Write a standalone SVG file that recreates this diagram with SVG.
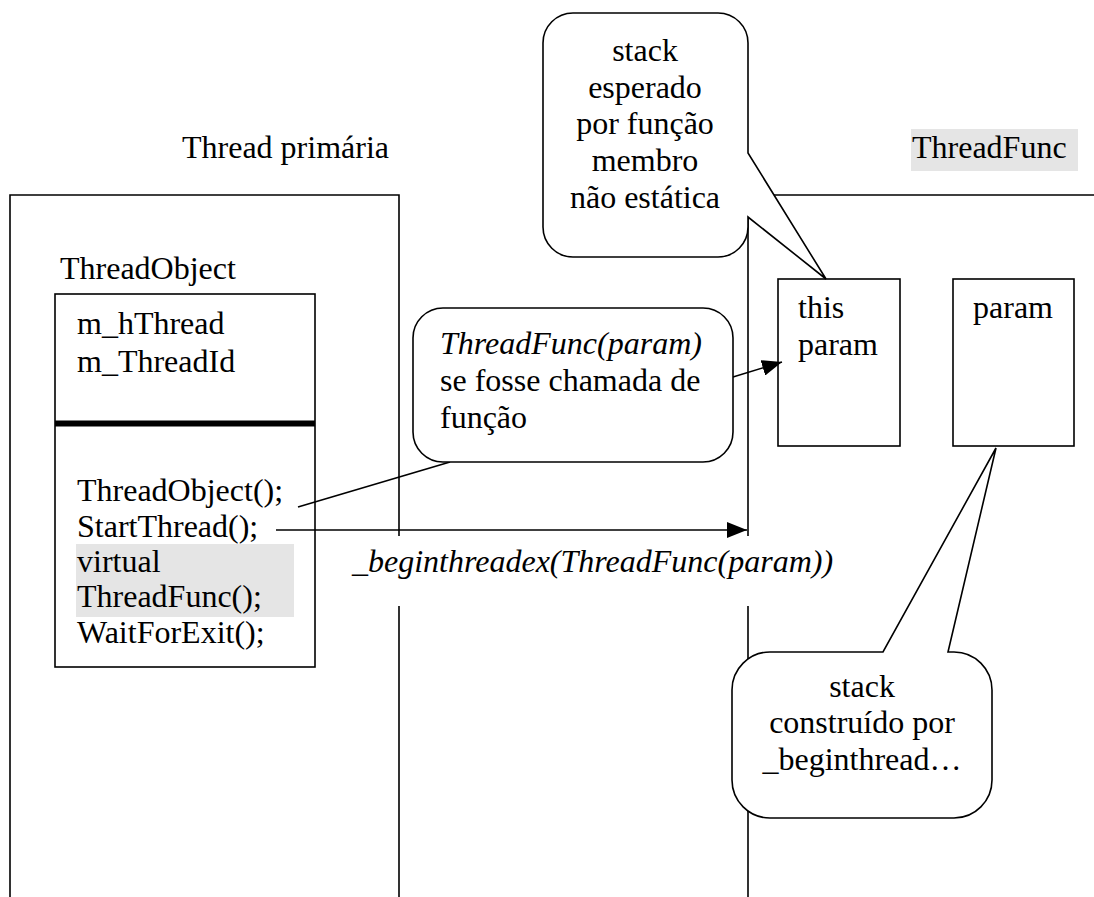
<svg xmlns="http://www.w3.org/2000/svg" width="1094" height="897" viewBox="0 0 1094 897">
<style>
text{font-size:32px;fill:#000}
.it{font-style:italic}
.ln{fill:none;stroke:#000;stroke-width:1.6}
.box{fill:#fff;stroke:#000;stroke-width:1.6}
.hl{fill:#e5e5e5}
</style>
<defs>
<marker id="ah" viewBox="0 0 20 16" refX="20" refY="8" markerWidth="20" markerHeight="16" markerUnits="userSpaceOnUse" orient="auto">
<path d="M0,0 L20,8 L0,16 Z" fill="#000"/>
</marker>
</defs>
<rect width="1094" height="897" fill="#fff"/>
<g font-family="Liberation Serif, Times New Roman, DejaVu Serif, serif">

<g id="primary-thread">
<text x="182" y="158">Thread primária</text>
<path class="ln" d="M10,897 V195 H399 V536 M399,606 V897"/>
</g>

<g id="threadfunc-thread">
<rect class="hl" x="911" y="129" width="167" height="42"/>
<text x="912" y="158">ThreadFunc</text>
<path class="ln" d="M1094,195 H748 V536 M748,606 V897"/>
</g>

<g id="threadobject">
<text x="60" y="279">ThreadObject</text>
<rect class="box" x="55" y="294" width="260" height="373"/>
<line x1="55" y1="423.5" x2="315" y2="423.5" stroke="#000" stroke-width="6"/>
<text x="77" y="334">m_hThread</text>
<text x="77" y="372">m_ThreadId</text>
<rect class="hl" x="76" y="544" width="218" height="73"/>
<text x="77" y="501">ThreadObject();</text>
<text x="77" y="537">StartThread();</text>
<text x="77" y="572">virtual</text>
<text x="77" y="607">ThreadFunc();</text>
<text x="77" y="643">WaitForExit();</text>
</g>

<g id="stack-this">
<rect class="box" x="778" y="279" width="122" height="167"/>
<text x="798" y="318">this</text>
<text x="798" y="355">param</text>
</g>

<g id="stack-param">
<rect class="box" x="953" y="279" width="121" height="167"/>
<text x="1013" y="318" text-anchor="middle">param</text>
</g>

<g id="connectors">
<line class="ln" x1="276" y1="530" x2="747" y2="530" marker-end="url(#ah)"/>
<text class="it" x="352" y="572">_beginthreadex(ThreadFunc(param))</text>
<line class="ln" x1="733" y1="377" x2="782" y2="362" marker-end="url(#ah)"/>
<line class="ln" x1="450" y1="462" x2="298" y2="507"/>
</g>

<g id="callout-stack-expected">
<path class="box" d="M573,13 H718 A30,30 0 0 1 748,43 V153 L826,279 L748,217 V227 A30,30 0 0 1 718,257 H573 A30,30 0 0 1 543,227 V43 A30,30 0 0 1 573,13 Z"/>
<text x="645" y="61" text-anchor="middle">stack</text>
<text x="645" y="98" text-anchor="middle">esperado</text>
<text x="645" y="134" text-anchor="middle">por função</text>
<text x="645" y="171" text-anchor="middle">membro</text>
<text x="645" y="208" text-anchor="middle">não estática</text>
</g>

<g id="callout-function-call">
<rect class="box" x="413" y="308" width="320" height="154" rx="30" ry="30"/>
<text class="it" x="440" y="354">ThreadFunc(param)</text>
<text x="440" y="391">se fosse chamada de</text>
<text x="440" y="428">função</text>
</g>

<g id="callout-stack-built">
<path class="box" d="M770,652 H883 L996,448 L948,652 H954 A38,38 0 0 1 992,690 V780 A38,38 0 0 1 954,818 H770 A38,38 0 0 1 732,780 V690 A38,38 0 0 1 770,652 Z"/>
<text x="862" y="697" text-anchor="middle">stack</text>
<text x="862" y="733" text-anchor="middle">construído por</text>
<text x="862" y="770" text-anchor="middle">_beginthread…</text>
</g>
</g>
</svg>
